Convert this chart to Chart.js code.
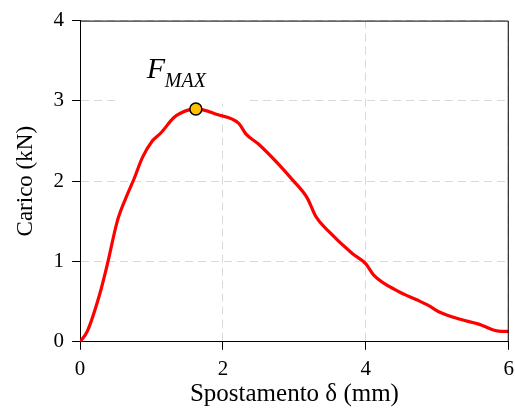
<!DOCTYPE html>
<html>
<head>
<meta charset="utf-8">
<script src="https://cdn.jsdelivr.net/npm/chart.js@4"></script>
<style>
body { margin: 0; background: #fff; overflow: hidden; }
#wrap { width: 515px; height: 411px; overflow: hidden; }
</style>
</head>
<body>
<div id="wrap"><canvas id="caricoSpostamento" width="521" height="411"></canvas></div>
<script>
// curva carico - spostamento
var spostamento = [0, 0.10, 0.27, 0.38, 0.52, 0.64, 0.76, 0.87, 1.01, 1.13, 1.31, 1.41, 1.62, 1.92, 2.22, 2.32, 2.50, 2.78, 2.97, 3.18, 3.30, 3.48, 3.81, 4.00, 4.11, 4.46, 4.72, 4.88, 5.02, 5.32, 5.58, 5.81, 5.90, 6.00];
var carico = [0, 0.13, 0.58, 0.96, 1.50, 1.79, 2.04, 2.29, 2.50, 2.60, 2.79, 2.85, 2.90, 2.83, 2.72, 2.59, 2.46, 2.21, 2.02, 1.79, 1.56, 1.375, 1.10, 0.97, 0.83, 0.625, 0.52, 0.45, 0.375, 0.28, 0.22, 0.14, 0.13, 0.13];
var piccoX = [1.62];
var piccoY = [2.90];
var xTicks = [0, 2, 4, 6];
var yTicks = [0, 1, 2, 3, 4];

var punti = spostamento.map(function (v, i) { return { x: v, y: carico[i] }; });
var picco = piccoX.map(function (v, i) { return { x: v, y: piccoY[i] }; });

var font = '"Liberation Serif", "Times New Roman", serif';

var cornice = {
    id: 'cornice',
    beforeDatasetsDraw: function (chart) {
        var ctx = chart.ctx;
        var a = chart.chartArea;
        var px = chart.scales.x.getPixelForValue(piccoX[0]);
        var py = chart.scales.y.getPixelForValue(piccoY[0]);
        ctx.save();
        ctx.fillStyle = '#fff';
        ctx.fillRect(px - 81, a.top + 1, 132, py - 5 - a.top - 1);
        ctx.restore();
    },
    afterDraw: function (chart) {
        var ctx = chart.ctx;
        var a = chart.chartArea;
        var px = chart.scales.x.getPixelForValue(piccoX[0]);
        var py = chart.scales.y.getPixelForValue(piccoY[0]);
        ctx.save();
        ctx.setLineDash([]);
        ctx.strokeStyle = '#000';
        ctx.lineWidth = 1;
        ctx.beginPath();
        ctx.moveTo(a.left, a.top + 0.5);
        ctx.lineTo(a.right - 0.5, a.top + 0.5);
        ctx.lineTo(a.right - 0.5, a.bottom);
        ctx.stroke();
        ctx.fillStyle = '#000';
        ctx.textBaseline = 'alphabetic';
        ctx.font = 'italic 30px ' + font;
        ctx.fillText('F', px - 49, py - 31);
        ctx.font = 'italic 20px ' + font;
        ctx.fillText('MAX', px - 31, py - 22);
        ctx.restore();
    }
};

var ctx = document.getElementById('caricoSpostamento').getContext('2d');
var myChart = new Chart(ctx, {
    type: 'scatter',
    data: {
        datasets: [{
            label: 'picco',
            data: picco,
            backgroundColor: '#FFC000',
            borderColor: '#000',
            borderWidth: 1.5,
            pointRadius: 6,
            order: 0
        }, {
            label: 'Carico',
            data: punti,
            showLine: true,
            borderColor: '#FF0000',
            borderWidth: 3.2,
            pointRadius: 0,
            cubicInterpolationMode: 'monotone',
            order: 1
        }]
    },
    options: {
        responsive: false,
        animation: false,
        layout: { padding: { top: 14, left: 8, bottom: 2 } },
        plugins: {
            legend: { display: false },
            tooltip: { enabled: false }
        },
        scales: {
            x: {
                type: 'linear',
                min: 0,
                max: 6,
                afterBuildTicks: function (s) { s.ticks = xTicks.map(function (v) { return { value: v }; }); },
                ticks: { color: '#000', font: { family: font, size: 21 }, padding: 7 },
                grid: { color: '#d9d9d9', tickColor: '#000', tickLength: 8, tickBorderDash: [] },
                border: { color: '#000', width: 1, dash: [8, 5] },
                title: { display: true, text: 'Spostamento δ (mm)', color: '#000', font: { family: font, size: 25 }, padding: { top: -10, bottom: 0 } }
            },
            y: {
                min: 0,
                max: 4,
                afterBuildTicks: function (s) { s.ticks = yTicks.map(function (v) { return { value: v }; }); },
                ticks: { color: '#000', font: { family: font, size: 21 }, padding: 8 },
                grid: { color: '#d9d9d9', tickColor: '#000', tickLength: 8, tickBorderDash: [] },
                border: { color: '#000', width: 1, dash: [8, 5] },
                title: { display: true, text: 'Carico (kN)', color: '#000', font: { family: font, size: 23 }, padding: { bottom: 6 } }
            }
        }
    },
    plugins: [cornice]
});
</script>
</body>
</html>
